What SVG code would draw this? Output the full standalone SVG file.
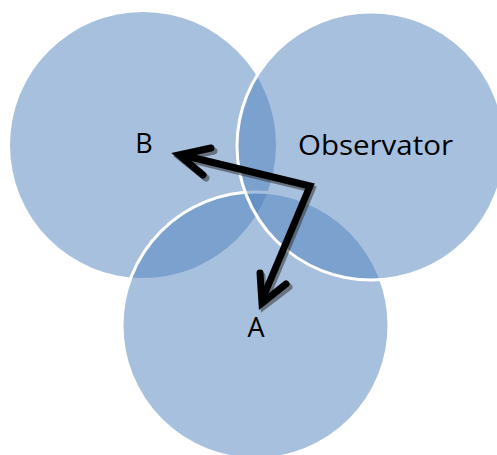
<svg xmlns="http://www.w3.org/2000/svg" width="497" height="455" viewBox="0 0 497 455">
<style>
.c{fill:#4F81BD;fill-opacity:0.5}
.s{stroke:#FFFFFF;stroke-width:3}
.lbl{font-family:"Open Sans","Liberation Sans",Arial,sans-serif;font-size:27px;fill:#000}
.arr{fill:none;stroke:#000;stroke-width:7;stroke-linejoin:miter}
.head{fill:none;stroke:#000;stroke-width:7;stroke-linecap:round;stroke-linejoin:miter}
.sh{fill:none;stroke:#333;stroke-opacity:0.55;stroke-width:7}
</style>
<rect width="497" height="455" fill="#FFFFFF"/>
<g id="node-B">
<circle class="c" cx="143" cy="145" r="133"/>
<text class="lbl" x="144" y="153" text-anchor="middle">B</text>
</g>
<g id="node-A">
<circle class="c s" cx="255.5" cy="325.5" r="133.5"/>
<text class="lbl" x="256" y="337" text-anchor="middle">A</text>
</g>
<g id="node-Observator">
<circle class="c s" cx="371" cy="146" r="134"/>
<text class="lbl" x="298" y="155" textLength="155" lengthAdjust="spacingAndGlyphs">Observator</text>
</g>
<g id="connectors">
<g transform="translate(2,3)">
<path class="sh" d="M182,155 L310,186 L262,300"/>
<path class="sh" d="M212,148 L179,155 L204,175" stroke-linecap="round"/>
<path class="sh" d="M260,273 L262,303 L287,284" stroke-linecap="round"/>
</g>
<path class="arr" d="M182,155 L310,186 L262,300"/>
<path class="head" d="M211,148 L179,155 L203,175"/>
<path class="head" d="M260,273 L262,303 L286,284"/>
</g>
</svg>
